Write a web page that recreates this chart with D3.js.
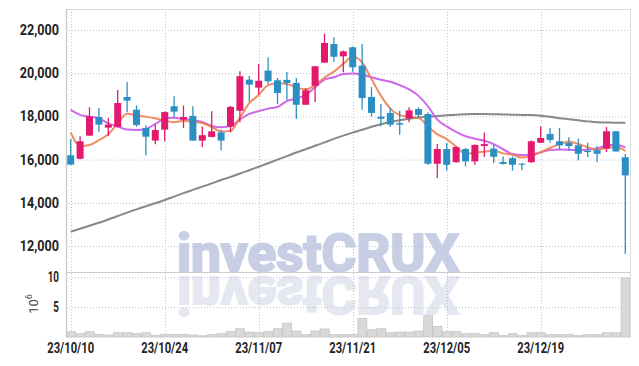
<!DOCTYPE html>
<html>
<head>
<meta charset="utf-8">
<script src="https://cdn.jsdelivr.net/npm/d3@7/dist/d3.min.js"></script>
<style>
  body { margin: 0; background: #fff; }
  .axis text { font-family: Roboto, sans-serif; font-weight: 700; font-size: 14px; fill: #222; }
  .axis path.domain { display: none; }
  .grid line { stroke: #bcc2da; stroke-width: 1; stroke-dasharray: 1, 2; }
  .unit { font-family: Roboto, sans-serif; font-size: 13px; fill: #444; }
</style>
</head>
<body>
<div id="chart"></div>
<script>
// trading days shown on the chart
const dates = [
  '2023-10-10', '2023-10-11', '2023-10-12', '2023-10-13', '2023-10-16', '2023-10-17', '2023-10-18', '2023-10-19', '2023-10-20', '2023-10-23',
  '2023-10-24', '2023-10-25', '2023-10-26', '2023-10-27', '2023-10-30', '2023-10-31', '2023-11-01', '2023-11-02', '2023-11-03', '2023-11-06',
  '2023-11-07', '2023-11-08', '2023-11-09', '2023-11-10', '2023-11-13', '2023-11-14', '2023-11-15', '2023-11-16', '2023-11-17', '2023-11-20',
  '2023-11-21', '2023-11-22', '2023-11-23', '2023-11-24', '2023-11-27', '2023-11-28', '2023-11-29', '2023-11-30', '2023-12-01', '2023-12-04',
  '2023-12-05', '2023-12-06', '2023-12-07', '2023-12-08', '2023-12-11', '2023-12-12', '2023-12-13', '2023-12-14', '2023-12-15', '2023-12-18',
  '2023-12-19', '2023-12-20', '2023-12-21', '2023-12-22', '2023-12-26', '2023-12-27', '2023-12-28', '2024-01-02', '2024-01-03', '2024-01-04',
];
const open = [
  16200, 16040, 17110, 17970, 17480, 17510, 18900, 18310, 17460, 16880,
  17390, 18470, 17850, 18020, 16880, 17050, 17260, 17530, 18260, 19700,
  19330, 20120, 19670, 19690, 19550, 18540, 19420, 20490, 21350, 20780,
  21200, 20350, 18900, 17990, 18160, 17690, 17910, 18340, 18110, 15810,
  16490, 15880, 16490, 15920, 16630, 16510, 15890, 16070, 15810, 15880,
  16780, 17190, 16850, 16770, 16660, 16410, 16440, 16510, 17310, 16110,
];
const high = [
  16950, 17080, 18420, 18390, 17930, 19220, 19590, 18510, 17590, 17620,
  18230, 18930, 18500, 18470, 17530, 18240, 17380, 18480, 20090, 19870,
  20430, 20740, 19780, 20060, 19780, 19320, 20330, 21830, 21660, 21050,
  21230, 21350, 19350, 18570, 18390, 18260, 18420, 18420, 18190, 16720,
  16770, 16620, 16540, 16700, 17260, 16690, 16150, 16150, 15830, 16880,
  17530, 17460, 17460, 17030, 16970, 16780, 16620, 17510, 17320, 16260,
];
const low = [
  15750, 16020, 17100, 17290, 17080, 17500, 18190, 17520, 16200, 16710,
  16850, 17960, 17460, 16870, 16580, 17040, 16430, 17260, 17730, 18680,
  19010, 19500, 18570, 18760, 17880, 18530, 18670, 20480, 20530, 20040,
  20070, 18310, 18000, 17540, 17510, 17150, 17730, 17930, 15760, 15150,
  15500, 15860, 15690, 15760, 16120, 15840, 15780, 15490, 15520, 15860,
  16770, 16780, 16460, 16410, 15970, 16120, 15890, 16350, 16370, 11630,
];
const close = [
  15770, 16850, 18000, 17620, 17620, 18620, 18730, 17600, 17060, 17370,
  18200, 18220, 17970, 16880, 17130, 17310, 16880, 18440, 19860, 19470,
  19650, 19630, 19080, 19550, 18540, 19210, 20320, 21400, 20760, 21010,
  20270, 18850, 18160, 17890, 17620, 17620, 18280, 18070, 15810, 16490,
  15760, 16580, 15920, 16680, 16720, 16130, 15800, 15760, 15770, 16850,
  17000, 16910, 16660, 16630, 16270, 16350, 16270, 17310, 16380, 15270,
];
const volume = [
  890000, 560000, 890000, 440000, 330000, 720000, 720000, 560000, 720000, 280000,
  440000, 440000, 440000, 330000, 200000, 400000, 560000, 940000, 1390000, 830000,
  720000, 890000, 1390000, 2330000, 1000000, 390000, 1000000, 1330000, 390000, 390000,
  390000, 3110000, 1220000, 1390000, 720000, 830000, 830000, 1000000, 3560000, 1780000,
  890000, 890000, 560000, 560000, 390000, 720000, 220000, 560000, 220000, 720000,
  720000, 390000, 390000, 390000, 220000, 390000, 390000, 720000, 720000, 9900000,
];
// moving averages as drawn (they include days before the window)
const ma5 = [
  17250, 16630, 16680, 16900, 17170, 17680, 18120, 18050, 17990, 17910,
  17800, 17730, 17800, 17740, 17690, 17510, 17300, 17330, 17930, 18610,
  18990, 19450, 19530, 19500, 19330, 19250, 19450, 19800, 20070, 20430,
  20770, 20500, 19730, 18960, 18360, 18060, 17980, 17940, 17540, 17180,
  16950, 16600, 16260, 16330, 16370, 16410, 16290, 16230, 16100, 16150,
  16350, 16540, 16720, 16840, 16720, 16580, 16460, 16540, 16580, 16400,
];
const ma20 = [
  18300, 18070, 17990, 17910, 17680, 17530, 17390, 17370, 17420, 17650,
  17890, 17940, 17880, 17830, 17740, 17560, 17500, 17550, 17860, 18120,
  18240, 18360, 18440, 18710, 18830, 19000, 19350, 19700, 19810, 19960,
  19990, 19930, 19810, 19700, 19600, 19450, 19250, 18950, 18470, 17850,
  17540, 17280, 17080, 16970, 16870, 16720, 16480, 16260, 16210, 16230,
  16340, 16440, 16470, 16460, 16440, 16470, 16510, 16660, 16690, 16570,
];
const ma60 = [
  12660, 12800, 12940, 13080, 13230, 13390, 13550, 13700, 13840, 13980,
  14130, 14290, 14450, 14600, 14750, 14900, 15060, 15200, 15360, 15510,
  15670, 15830, 16000, 16160, 16330, 16480, 16640, 16800, 16960, 17110,
  17250, 17380, 17520, 17640, 17740, 17820, 17890, 17950, 17990, 18020,
  18050, 18080, 18100, 18110, 18110, 18100, 18090, 18080, 18070, 18060,
  18030, 17980, 17920, 17870, 17820, 17770, 17730, 17720, 17710, 17710,
];
const priceTicks = [12000, 14000, 16000, 18000, 20000, 22000];
const volumeTicks = [5000000, 10000000];
const dateTicks = ['2023-10-10', '2023-10-24', '2023-11-07', '2023-11-21', '2023-12-05', '2023-12-19'];

const width = 639;
const height = 366;
const plot = { left: 66, right: 630, top: 9, mainBottom: 272, volBottom: 337 };
const upColor = '#e3196e';
const downColor = '#2b8fc3';

const svg = d3.select('#chart')
  .append('svg')
  .attr('width', width)
  .attr('height', height);

const x = d3.scaleBand()
  .domain(dates)
  .range([plot.left, plot.right]);
const bw = x.bandwidth();
const cx = d => x(d) + bw / 2;

const y = d3.scaleLinear()
  .domain([10800, 22970])
  .range([plot.mainBottom, plot.top]);

const yVol = d3.scaleLinear()
  .domain([0, 10900000])
  .range([plot.volBottom, plot.mainBottom]);

// watermark with its reflection
const wm = svg.append('g').attr('class', 'watermark');
wm.append('text')
  .attr('x', 177)
  .attr('y', plot.mainBottom - 1)
  .attr('textLength', 282)
  .attr('lengthAdjust', 'spacingAndGlyphs')
  .style('font', '700 52px Roboto, sans-serif')
  .attr('fill', '#c8cfe5')
  .attr('stroke', '#c8cfe5')
  .attr('stroke-width', 2.2)
  .text('investCRUX');
wm.append('text')
  .attr('x', 177)
  .attr('y', plot.mainBottom - 1)
  .attr('transform', `translate(0,${2 * plot.mainBottom + 4}) scale(1,-1)`)
  .attr('textLength', 282)
  .attr('lengthAdjust', 'spacingAndGlyphs')
  .style('font', '700 52px Roboto, sans-serif')
  .attr('fill', '#e5e8f1')
  .attr('stroke', '#e5e8f1')
  .attr('stroke-width', 2.2)
  .text('investCRUX');

// grid
const grid = svg.append('g').attr('class', 'grid');
grid.selectAll('line.hp')
  .data(priceTicks)
  .enter()
  .append('line')
  .attr('x1', plot.left)
  .attr('x2', plot.right)
  .attr('y1', d => y(d) + 0.5)
  .attr('y2', d => y(d) + 0.5);
grid.selectAll('line.hv')
  .data(volumeTicks)
  .enter()
  .append('line')
  .attr('x1', plot.left)
  .attr('x2', plot.right)
  .attr('y1', d => yVol(d) + 0.5)
  .attr('y2', d => yVol(d) + 0.5);
grid.selectAll('line.v')
  .data(dateTicks)
  .enter()
  .append('line')
  .attr('x1', d => Math.round(cx(d)) + 0.5)
  .attr('x2', d => Math.round(cx(d)) + 0.5)
  .attr('y1', plot.top)
  .attr('y2', plot.volBottom);

// volume bars
svg.append('g')
  .attr('class', 'volume')
  .selectAll('rect')
  .data(dates)
  .enter()
  .append('rect')
  .attr('x', d => x(d) + 0.5)
  .attr('width', bw - 0.5)
  .attr('y', (d, i) => yVol(volume[i]))
  .attr('height', (d, i) => plot.volBottom - yVol(volume[i]))
  .attr('fill', '#d9d9d9')
  .attr('stroke', '#c4c4c4')
  .attr('stroke-width', 0.8);

// frame
const frame = svg.append('g').attr('class', 'frame');
frame.append('line')
  .attr('x1', plot.left).attr('x2', plot.right)
  .attr('y1', plot.top + 0.5).attr('y2', plot.top + 0.5)
  .attr('stroke', '#dcdcdc');
frame.append('line')
  .attr('x1', plot.left).attr('x2', plot.right)
  .attr('y1', plot.mainBottom + 0.5).attr('y2', plot.mainBottom + 0.5)
  .attr('stroke', '#cdcdcd');
frame.append('line')
  .attr('x1', plot.left + 0.5).attr('x2', plot.left + 0.5)
  .attr('y1', plot.top).attr('y2', plot.volBottom)
  .attr('stroke', '#c8c8c8')
  .attr('stroke-width', 1.3);
frame.append('line')
  .attr('x1', plot.right + 0.5).attr('x2', plot.right + 0.5)
  .attr('y1', plot.top).attr('y2', plot.volBottom)
  .attr('stroke', '#dcdcdc');

// moving averages
const maLine = series => d3.line()
  .x(d => cx(d))
  .y((d, i) => y(series[i]))
  .curve(d3.curveMonotoneX);

[[ma60, '#7b7b7b'], [ma20, '#c957ea'], [ma5, '#ef7f4f']].forEach(([series, color]) => {
  svg.append('path')
    .datum(dates)
    .attr('fill', 'none')
    .attr('stroke', color)
    .attr('stroke-width', 2)
    .attr('stroke-opacity', 0.9)
    .attr('d', maLine(series));
});

// candles
const candle = svg.append('g')
  .attr('class', 'candles')
  .selectAll('g')
  .data(dates)
  .enter()
  .append('g');

candle.append('line')
  .attr('x1', d => cx(d))
  .attr('x2', d => cx(d))
  .attr('y1', (d, i) => y(high[i]))
  .attr('y2', (d, i) => y(low[i]))
  .attr('stroke', (d, i) => (close[i] >= open[i] ? upColor : downColor))
  .attr('stroke-width', 1.3);

candle.append('rect')
  .attr('x', d => cx(d) - 3.5)
  .attr('width', 7)
  .attr('y', (d, i) => y(Math.max(open[i], close[i])))
  .attr('height', (d, i) => Math.max(1, Math.abs(y(open[i]) - y(close[i]))))
  .attr('fill', (d, i) => (close[i] >= open[i] ? upColor : downColor));

// axes
const squeeze = (sel, ratio) => {
  sel.selectAll('text').each(function () {
    const w = this.getComputedTextLength();
    d3.select(this)
      .attr('textLength', w * ratio)
      .attr('lengthAdjust', 'spacingAndGlyphs');
  });
};

const priceAxis = svg.append('g')
  .attr('class', 'axis y')
  .attr('transform', `translate(${plot.left},0)`)
  .call(d3.axisLeft(y).tickValues(priceTicks).tickFormat(d3.format(',')).tickSize(0).tickPadding(7));
squeeze(priceAxis, 0.9);

const volAxis = svg.append('g')
  .attr('class', 'axis vol')
  .attr('transform', `translate(${plot.left},0)`)
  .call(d3.axisLeft(yVol).tickValues(volumeTicks).tickFormat(d => d / 1000000).tickSize(0).tickPadding(7));
squeeze(volAxis, 0.7);

const fmt = d3.timeFormat('%y/%m/%d');
const parse = d3.timeParse('%Y-%m-%d');
const dateAxis = svg.append('g')
  .attr('class', 'axis x')
  .attr('transform', `translate(0,${plot.volBottom})`)
  .call(d3.axisBottom(x).tickValues(dateTicks).tickFormat(d => fmt(parse(d))).tickSize(0).tickPadding(6));
squeeze(dateAxis, 0.8);

// volume unit
const unit = svg.append('text')
  .attr('class', 'unit')
  .attr('transform', 'translate(38,304) rotate(-90)')
  .attr('text-anchor', 'middle');
unit.append('tspan').text('10');
unit.append('tspan')
  .attr('dy', -6)
  .style('font-size', '9px')
  .text('6');
</script>
</body>
</html>
